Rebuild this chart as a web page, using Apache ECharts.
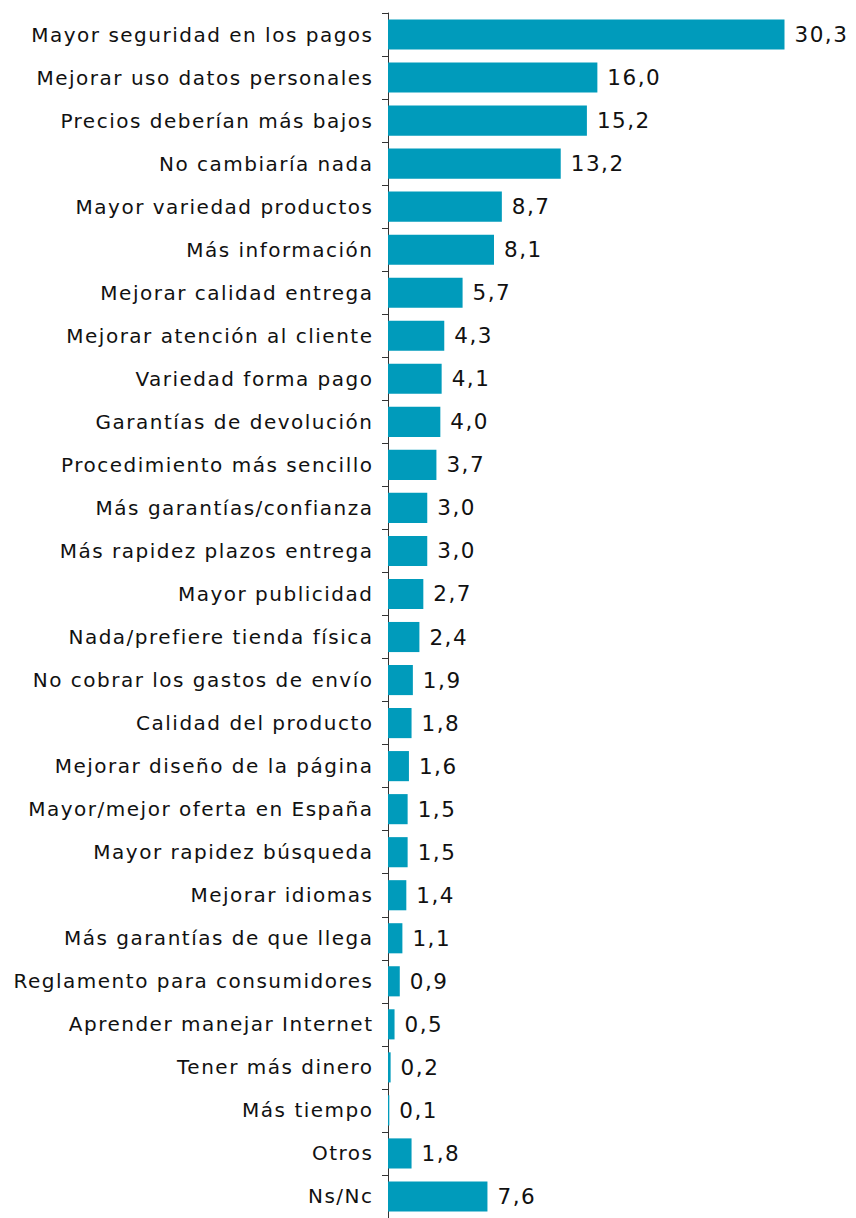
<!DOCTYPE html>
<html lang="es">
<head>
    <meta charset="UTF-8">
    <title>echarts</title>
    <style>
        html, body { margin: 0; padding: 0; background: #fff; }
        #main svg text { letter-spacing: 1.5px; }
    </style>
    <script src="https://cdn.jsdelivr.net/npm/echarts@6/dist/echarts.min.js"></script>
</head>
<body>
    <div id="main" style="width:856px;height:1218px"></div>
    <script>
        var categories = ['Mayor seguridad en los pagos', 'Mejorar uso datos personales', 'Precios deberían más bajos',
            'No cambiaría nada', 'Mayor variedad productos', 'Más información', 'Mejorar calidad entrega',
            'Mejorar atención al cliente', 'Variedad forma pago', 'Garantías de devolución',
            'Procedimiento más sencillo', 'Más garantías/confianza', 'Más rapidez plazos entrega',
            'Mayor publicidad', 'Nada/prefiere tienda física', 'No cobrar los gastos de envío',
            'Calidad del producto', 'Mejorar diseño de la página', 'Mayor/mejor oferta en España',
            'Mayor rapidez búsqueda', 'Mejorar idiomas', 'Más garantías de que llega',
            'Reglamento para consumidores', 'Aprender manejar Internet', 'Tener más dinero',
            'Más tiempo', 'Otros', 'Ns/Nc'];
        var values = [30.3, 16.0, 15.2, 13.2, 8.7, 8.1, 5.7, 4.3, 4.1, 4.0, 3.7, 3.0, 3.0, 2.7, 2.4,
            1.9, 1.8, 1.6, 1.5, 1.5, 1.4, 1.1, 0.9, 0.5, 0.2, 0.1, 1.8, 7.6];

        var myChart = echarts.init(document.getElementById('main'), null, { renderer: 'svg' });
        var option = {
            animation: false,
            grid: { left: 388, top: 13, width: 458, height: 1210 },
            xAxis: {
                type: 'value', min: 0, max: 35, show: false
            },
            yAxis: {
                type: 'category',
                data: categories,
                inverse: true,
                axisLine: { show: true, lineStyle: { color: '#333', width: 1 } },
                axisTick: { show: true, length: 6, lineStyle: { color: '#333' } },
                axisLabel: { margin: 14.5, color: '#111', fontSize: 20, fontFamily: 'DejaVu Sans' }
            },
            series: [{
                type: 'bar',
                data: values,
                barCategoryGap: '30%',
                itemStyle: { color: '#009bbb' },
                label: {
                    show: true,
                    position: 'right',
                    distance: 10,
                    color: '#111',
                    fontSize: 21.5,
                    fontFamily: 'DejaVu Sans',
                    formatter: function (p) { return p.value.toFixed(1).replace('.', ','); }
                }
            }]
        };
        myChart.setOption(option);
    </script>
</body>
</html>
